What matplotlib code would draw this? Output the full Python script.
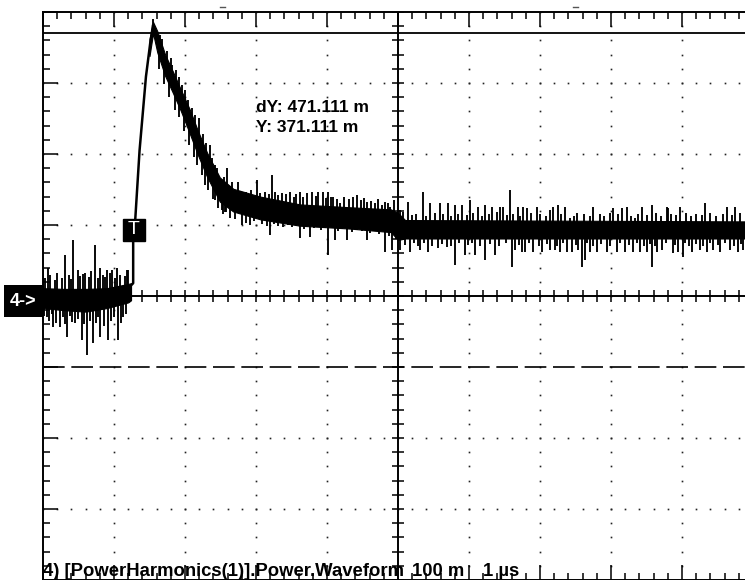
import matplotlib
matplotlib.use("Agg")
import matplotlib.pyplot as plt
import numpy as np
from matplotlib.lines import Line2D
from matplotlib.patches import Rectangle
from matplotlib.ticker import MultipleLocator

# ---------------- data (time in us from screen left, value in m; 100 m/div) -------------
channel_label = "4) [PowerHarmonics(1)].Power.Waveform"
volts_div_label = "100 m"
time_div_label = "1 \u00b5s"

x_min, x_max = 0.0, 10.0
y_min, y_max = -400.0, 400.0

# pre-trigger noisy baseline (centre and half-width of the dense band)
pre_t = [0.00, 0.30, 0.60, 0.90, 1.20, 1.24]
pre_center = [-3, -5, -6, -3, 4, 6]
pre_half = [14, 15, 16, 14, 13, 12]

# rising edge
rise_t = [1.24, 1.27, 1.27, 1.30, 1.36, 1.45, 1.51, 1.55]
rise_v = [15, 18, 78, 109, 205, 309, 356, 382]

# decay and plateau band
post_t = [1.50, 1.55, 1.61, 1.72, 1.83, 1.94, 2.07, 2.18, 2.31, 2.49, 2.68,
          3.06, 3.62, 4.32, 4.90, 5.00, 5.10, 10.10]
post_center = [350, 378, 358, 325, 301, 276, 245, 216, 185, 150, 135,
               124, 114, 110, 106, 98, 94, 93]
post_half = [12, 8, 15, 15, 15, 15, 17, 17, 17, 17, 16,
             16, 15, 15, 16, 19, 13, 12]

# large noise spikes (tip positions)
spike_t = [
    0.00, 0.07, 0.31, 0.42, 0.49, 0.59, 0.73, 0.80, 0.90, 0.97, 1.04, 1.20,
    0.06, 0.14, 0.24, 0.34, 0.45, 0.55, 0.62, 0.70, 0.80, 0.92, 1.06, 1.13,
    1.55, 1.65, 1.82, 1.96, 2.04, 2.20, 2.35, 2.42, 2.28, 2.42, 2.52, 2.58,
    2.59, 2.66, 2.75, 2.82, 3.01, 3.23, 3.37, 3.48, 3.62, 3.72, 3.79, 3.87,
    3.94, 4.01, 4.08, 4.18, 4.42, 4.56, 4.68, 4.77, 4.89, 5.03, 5.14, 5.35,
    5.45, 5.59, 5.70, 5.80, 5.90, 6.01, 6.13, 6.23, 6.32,
    6.44, 6.48, 6.58, 6.69, 6.76, 6.82, 6.96, 7.14, 7.18, 7.25, 7.35, 7.42,
    7.75, 8.03, 8.15, 8.23, 8.34, 8.44, 8.58, 8.79, 8.80, 8.97, 9.32, 9.63, 9.75,
    2.56, 2.80, 2.92, 3.20, 3.38, 3.62, 3.76, 4.01, 4.11, 4.28, 4.42, 4.56,
    4.82, 4.92, 5.03, 5.17, 5.31, 5.42, 5.56, 5.69, 5.80, 5.94, 6.08, 6.23, 6.37,
    6.61, 6.65, 6.75, 6.79, 6.90, 7.03, 7.14, 7.21, 7.28, 7.38, 7.45, 7.54,
    7.59, 7.63, 7.70, 7.80, 7.94, 8.08, 8.20, 8.31, 8.41, 8.51, 8.58, 8.65,
    8.72, 8.87, 8.94, 9.01, 9.14, 9.25, 9.35, 9.44, 9.54, 9.68, 9.79, 9.86,
]
spike_v = [
    39, 39, 58, 79, 37, 32, 72, 39, 37, 37, 39, 37,
    -30, -44, -44, -58, -38, -62, -83, -66, -58, -62, -62, -30,
    390, 368, 325, 297, 276, 251, 212, 185, 156, 135, 121, 118,
    180, 161, 161, 147, 163, 170, 145, 147, 147, 145, 147, 147,
    147, 147, 139, 131, 142, 132, 131, 128, 125, 121, 132, 147,
    131, 131, 131, 128, 128, 135, 125, 128, 125,
    125, 125, 149, 125, 125, 124, 125, 121, 125, 128, 125, 110,
    125, 124, 124, 125, 110, 125, 128, 125, 124, 125, 131, 125, 125,
    118, 100, 100, 86, 97, 82, 83, 58, 79, 79, 93, 79,
    62, 65, 65, 62, 65, 62, 68, 69, 44, 58, 58, 51, 58,
    41, 65, 62, 62, 62, 62, 65, 65, 62, 62, 62, 65,
    41, 51, 62, 62, 62, 62, 62, 62, 62, 62, 41, 62,
    65, 61, 62, 55, 62, 65, 62, 65, 62, 65, 62, 65,
]

# small noise spikes along the band edges (tip positions)
small_t = [
    0.03, 0.10, 0.17, 0.20, 0.27, 0.36, 0.40, 0.52, 0.57, 0.65, 0.68, 0.77,
    0.84, 0.88, 0.94, 1.01, 1.09, 1.15, 1.18,
    0.02, 0.09, 0.12, 0.19, 0.28, 0.31, 0.38, 0.41, 0.49, 0.58, 0.66, 0.74,
    0.77, 0.86, 0.96, 1.00, 1.10, 1.17,
    1.60, 1.68, 1.75, 1.80, 1.88, 1.92, 2.00, 2.10, 2.14, 2.25, 2.30, 2.38, 2.45, 2.55,
    1.63, 1.70, 1.78, 1.86, 1.91, 1.99, 2.05, 2.12, 2.17, 2.24, 2.33, 2.40, 2.47, 2.54,
    2.62, 2.70, 2.78, 2.86, 2.93, 3.05, 3.12, 3.18, 3.27, 3.31, 3.42, 3.53, 3.57,
    3.66, 3.84, 3.98, 4.05, 4.14, 4.24, 4.31, 4.36, 4.48, 4.52, 4.62, 4.72, 4.82,
    4.86, 4.94,
    2.64, 2.71, 2.86, 2.97, 3.08, 3.15, 3.25, 3.31, 3.45, 3.51, 3.68, 3.82, 3.91,
    3.97, 4.15, 4.21, 4.35, 4.49, 4.61, 4.66, 4.73, 4.88, 4.97,
    5.07, 5.20, 5.26, 5.40, 5.52, 5.64, 5.75, 5.85, 5.97, 6.06, 6.18, 6.28, 6.40,
    6.53, 6.62, 6.72, 6.88, 7.00, 7.08, 7.30, 7.48, 7.52, 7.62, 7.70, 7.85, 7.90,
    7.98, 8.10, 8.28, 8.38, 8.50, 8.63, 8.70, 8.85, 8.92, 9.05, 9.12, 9.20, 9.28,
    9.40, 9.48, 9.58, 9.70, 9.82, 9.90,
    5.10, 5.22, 5.28, 5.37, 5.48, 5.62, 5.75, 5.86, 5.99, 6.04, 6.15, 6.30, 6.42,
    6.52, 6.70, 6.84, 6.98, 7.10, 7.24, 7.33, 7.50, 7.66, 7.75, 7.86, 7.99, 8.13,
    8.25, 8.36, 8.46, 8.55, 8.62, 8.77, 8.90, 9.04, 9.10, 9.20, 9.30, 9.39, 9.50,
    9.60, 9.73, 9.83,
]
small_v = [
    25, 30, 22, 33, 26, 30, 24, 28, 31, 27, 35, 25,
    30, 27, 33, 26, 30, 28, 36,
    -28, -35, -25, -38, -30, -40, -28, -36, -33, -40, -35, -38,
    -30, -42, -35, -30, -38, -25,
    372, 362, 345, 335, 318, 308, 290, 265, 255, 228, 215, 195, 180, 168,
    320, 298, 280, 262, 252, 232, 212, 196, 184, 170, 150, 136, 124, 116,
    152, 150, 148, 146, 150, 145, 147, 143, 146, 142, 144, 140, 143,
    139, 141, 138, 140, 137, 139, 136, 140, 135, 138, 134, 136, 133,
    131, 135,
    110, 108, 103, 105, 101, 99, 102, 98, 100, 97, 95, 96, 93,
    96, 92, 94, 90, 92, 89, 91, 88, 85, 80,
    118, 114, 116, 113, 117, 115, 112, 116, 114, 117, 113, 115, 118,
    114, 116, 113, 117, 115, 112, 116, 113, 117, 115, 112, 116, 113,
    117, 115, 113, 116, 114, 117, 113, 116, 114, 117, 113, 116, 114,
    117, 113, 116, 114, 117, 113,
    72, 75, 70, 74, 71, 73, 70, 74, 72, 75, 71, 73, 70,
    74, 72, 75, 71, 73, 70, 74, 72, 75, 71, 73, 70, 74,
    72, 75, 71, 73, 70, 74, 72, 75, 71, 73, 70, 74, 72,
    75, 71, 73,
]

trigger_t = 1.28
trigger_level = 93
cursor_y = 371.111
cursor_ref = -100.0

# ---------------- figure -------------------------------------------------------------------
W, H = 745, 580
fig = plt.figure(figsize=(W / 100, H / 100), dpi=100)
fig.patch.set_facecolor("white")
ax = fig.add_axes([43 / W, 0.0, 710 / W, 568 / H])
ax.set_xlim(x_min, x_max)
ax.set_ylim(y_min, y_max)
ax.set_facecolor("white")

for s in ("left", "top", "bottom"):
    ax.spines[s].set_linewidth(1.4)
    ax.spines[s].set_color("black")
ax.spines["right"].set_visible(False)

ax.xaxis.set_major_locator(MultipleLocator(1))
ax.xaxis.set_minor_locator(MultipleLocator(0.2))
ax.yaxis.set_major_locator(MultipleLocator(100))
ax.yaxis.set_minor_locator(MultipleLocator(20))
ax.tick_params(which="both", direction="in", top=True, bottom=True, left=True,
               right=False, labelbottom=False, labelleft=False, color="black")
ax.tick_params(which="major", length=10.5, width=1.1)
ax.tick_params(which="minor", length=5.0, width=1.1)

# dotted graticule
dot_kw = dict(ls="none", marker="s", ms=1.2, mec="none", mfc="#222222", zorder=1)
gx = [v for v in range(1, 10) if v != 5]
yy = np.arange(y_min, y_max + 0.1, 20)
for x in gx:
    ax.plot(np.full_like(yy, x), yy, **dot_kw)
gy = [-300, -200, 100, 200, 300]
xx = np.arange(x_min, x_max + 0.01, 0.2)
for y in gy:
    ax.plot(xx, np.full_like(xx, y), **dot_kw)

# centre axes with ticks
ax.axvline(5, color="black", lw=1.4, zorder=2)
ax.axhline(0, color="black", lw=1.4, zorder=2)
ax.plot(np.full_like(yy, 5), yy, ls="none", marker="_", ms=8, mew=1.1, color="black", zorder=2)
ax.plot(xx, np.zeros_like(xx), ls="none", marker="|", ms=8, mew=1.1, color="black", zorder=2)

# cursors
ax.axhline(cursor_y, color="black", lw=1.3, zorder=2)
ax.axhline(cursor_ref, color="black", lw=1.2, ls=(0, (13, 4)), zorder=2)

# waveform
pre_t_a = np.array(pre_t)
pre_c = np.array(pre_center)
pre_h = np.array(pre_half)
ax.fill_between(pre_t_a, pre_c - pre_h, pre_c + pre_h, color="black", lw=0.8, zorder=3)
post_t_a = np.array(post_t)
post_c = np.array(post_center)
post_h = np.array(post_half)
ax.fill_between(post_t_a, post_c - post_h, post_c + post_h, color="black", lw=0.8, zorder=3)
ax.plot(rise_t, rise_v, color="black", lw=1.8, zorder=3, solid_capstyle="butt")

env_t = np.concatenate([pre_t_a, post_t_a])
env_c = np.concatenate([pre_c, post_c])
all_t = list(spike_t) + list(small_t)
all_v = list(spike_v) + list(small_v)
base = np.interp(all_t, env_t, env_c)
ax.vlines(all_t, base, all_v, color="black", lw=1.35, zorder=3)

# trigger marker
ax.plot([trigger_t], [trigger_level], marker="s", ms=16, color="black", zorder=5)
ax.text(trigger_t, trigger_level, "T", color="white", fontsize=14,
        family="Liberation Sans", ha="center", va="center", zorder=6)

# cursor readout
font = dict(family="Liberation Sans", fontweight="bold", color="black")
ax.text(3.0, 259, f"dY: {cursor_y - cursor_ref:.3f} m", fontsize=12.5, va="baseline", **font)
ax.text(3.0, 231, f"Y: {cursor_y:.3f} m", fontsize=12.5, va="baseline", **font)

# channel marker
fig.add_artist(Rectangle((4 / W, 1 - 317 / H), 39 / W, 32 / H, transform=fig.transFigure,
                         facecolor="black", edgecolor="none"))
fig.text(23 / W, 1 - 301 / H, "4->", color="white", fontsize=13, family="Liberation Sans",
         fontweight="bold", ha="center", va="center")

# bottom status line
fig.text(43 / W, 1 - 576 / H, channel_label, fontsize=13.3, va="baseline", zorder=1, **font)
fig.text(412 / W, 1 - 576 / H, volts_div_label, fontsize=13.3, va="baseline", zorder=1, **font)
fig.text(483 / W, 1 - 576 / H, time_div_label, fontsize=13.3, va="baseline", zorder=1, **font)

# small cursor indicators above graticule
for xp in (220, 573):
    fig.add_artist(Line2D([xp / W, (xp + 5) / W], [1 - 7 / H, 1 - 7 / H],
                          transform=fig.transFigure, color="#555555", lw=1))

fig.savefig("out.png", dpi=100)
